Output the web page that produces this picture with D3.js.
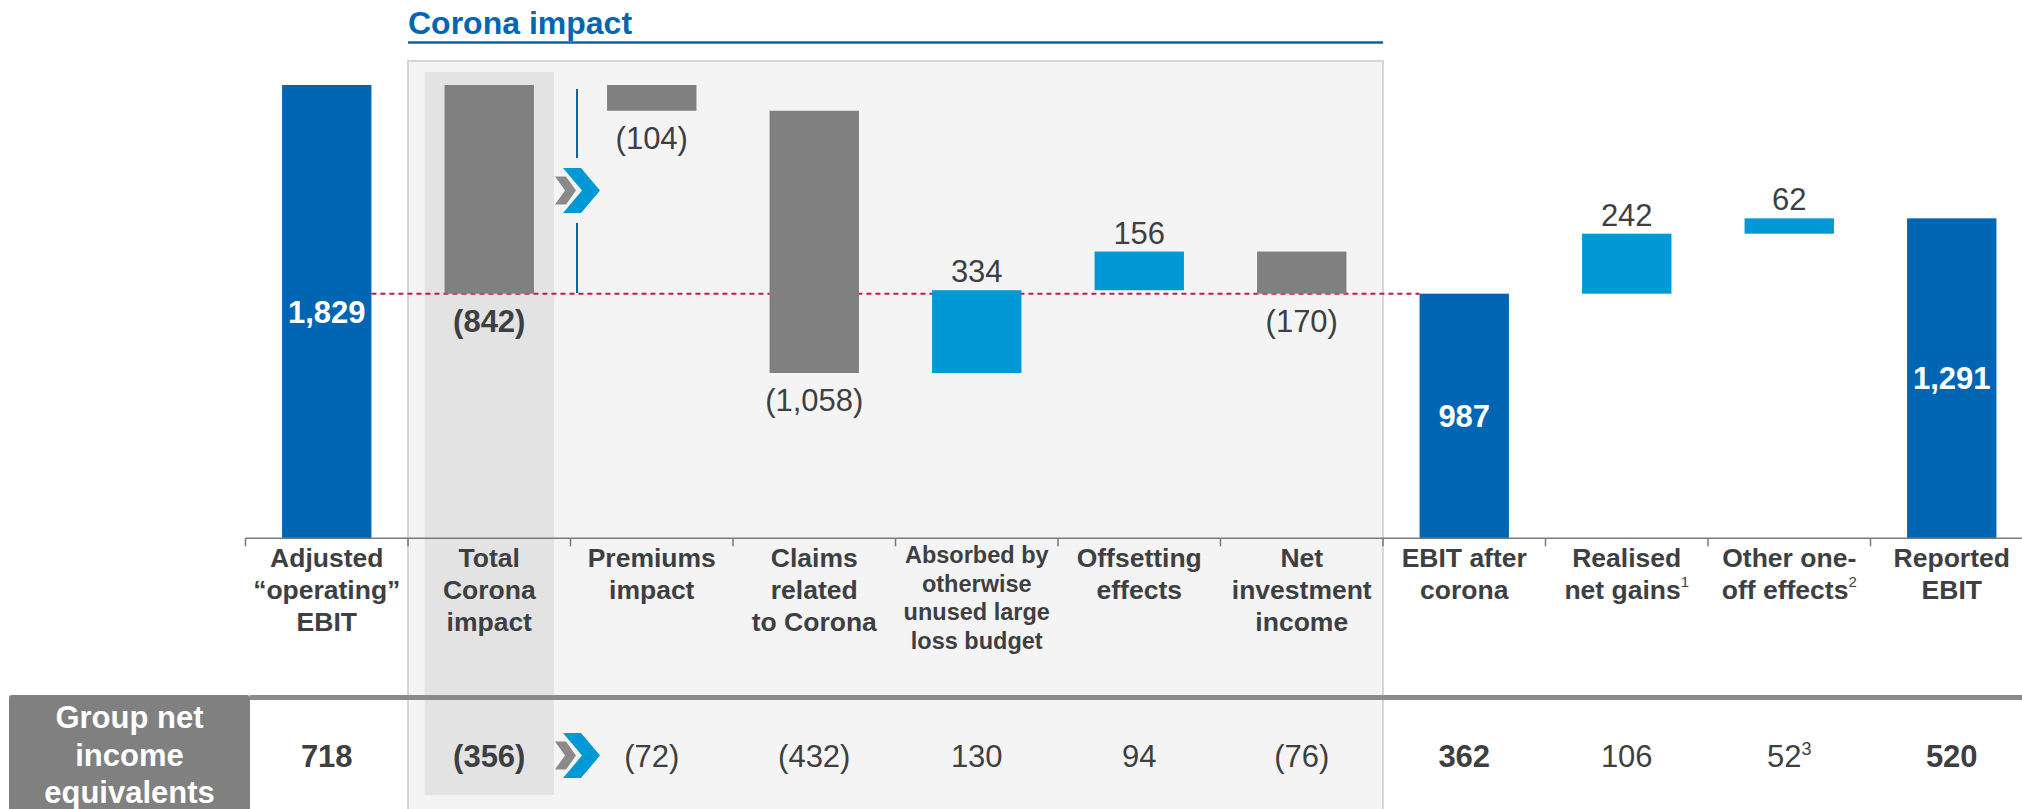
<!DOCTYPE html>
<html>
<head>
<meta charset="utf-8">
<script src="https://cdn.jsdelivr.net/npm/d3@7"></script>
<style>
  body { margin: 0; background: #fff; }
  text { font-family: "Liberation Sans", Arial, sans-serif; }
</style>
</head>
<body>
<div id="chart"></div>
<script>
// categories of the bridge, left to right
const categories = ['adjusted', 'total', 'premiums', 'claims', 'absorbed', 'offsetting',
  'netinv', 'ebitafter', 'realised', 'oneoff', 'reported'];

const labelLines = [
  ['Adjusted', '\u201Coperating\u201D', 'EBIT'],
  ['Total', 'Corona', 'impact'],
  ['Premiums', 'impact'],
  ['Claims', 'related', 'to Corona'],
  ['Absorbed by', 'otherwise', 'unused large', 'loss budget'],
  ['Offsetting', 'effects'],
  ['Net', 'investment', 'income'],
  ['EBIT after', 'corona'],
  ['Realised', 'net gains'],
  ['Other one-', 'off effects'],
  ['Reported', 'EBIT']
];
const labelNotes = ['', '', '', '', '', '', '', '', '1', '2', ''];

// EBIT values (EUR m)
const values = [1829, -842, -104, -1058, 334, 156, -170, 987, 242, 62, 1291];
// total = from zero, sum = hangs from running total without moving it, step = moves it
const kinds = ['total', 'sum', 'step', 'step', 'step', 'step', 'step', 'total', 'step', 'step', 'total'];

// bottom row: group net income equivalents
const netIncome = [718, -356, -72, -432, 130, 94, -76, 362, 106, 52, 520];
const netIncomeNotes = ['', '', '', '', '', '', '', '', '', '3', ''];

const colors = {
  total: '#0066b3',
  up: '#0099d5',
  down: '#808080',
  text: '#3d3f42'
};

const width = 2022, height = 809;
const fmt = d3.format(',');
const fmtVal = v => v < 0 ? `(${fmt(-v)})` : fmt(v);

// build waterfall rows
let running = 0;
const bars = values.map((v, i) => {
  let start, end;
  if (kinds[i] === 'total') {
    start = 0; end = v; running = v;
  } else if (kinds[i] === 'sum') {
    start = running; end = running + v;
  } else {
    start = running; end = running + v; running = end;
  }
  return {cat: categories[i], value: v, kind: kinds[i], start, end, i};
});

const svg = d3.select('#chart').append('svg')
  .attr('width', width)
  .attr('height', height);

const x = d3.scaleBand()
  .domain(categories)
  .range([245.5, 2033])
  .paddingInner(0.45)
  .paddingOuter(0.225);

const y = d3.scaleLinear()
  .domain([0, 1829])
  .range([538.3, 85]);

const step = x.step();
const bw = x.bandwidth();
const cx = c => x(c) + bw / 2;
const slotLeft = c => cx(c) - step / 2;

// Corona impact panel
const panelLeft = slotLeft('total');
const panelRight = slotLeft('ebitafter');
svg.append('rect')
  .attr('x', panelLeft)
  .attr('y', 61)
  .attr('width', panelRight - panelLeft)
  .attr('height', height)
  .attr('fill', '#f4f4f4')
  .attr('stroke', '#d6d6d6')
  .attr('stroke-width', 2);

svg.append('rect')
  .attr('x', x('total') - 20)
  .attr('y', 72)
  .attr('width', bw + 40)
  .attr('height', 795 - 72)
  .attr('fill', '#e3e3e3');

svg.append('text')
  .attr('x', panelLeft)
  .attr('y', 34)
  .attr('fill', colors.total)
  .attr('font-weight', 'bold')
  .attr('font-size', 32)
  .text('Corona impact');

svg.append('line')
  .attr('x1', panelLeft).attr('x2', panelRight)
  .attr('y1', 42.5).attr('y2', 42.5)
  .attr('stroke', colors.total)
  .attr('stroke-width', 2.5);

// dashed reference line at EBIT after corona
svg.append('line')
  .attr('x1', x('adjusted') + bw)
  .attr('x2', x('ebitafter'))
  .attr('y1', y(987)).attr('y2', y(987))
  .attr('stroke', '#c8174a')
  .attr('stroke-width', 2)
  .attr('stroke-dasharray', '5,4');

// bars
svg.selectAll('.bar')
  .data(bars)
  .join('rect')
  .attr('class', 'bar')
  .attr('x', d => x(d.cat))
  .attr('width', bw)
  .attr('y', d => y(Math.max(d.start, d.end)))
  .attr('height', d => Math.abs(y(d.start) - y(d.end)))
  .attr('fill', d => d.kind === 'total' ? colors.total : (d.value < 0 ? colors.down : colors.up));

// value labels
svg.selectAll('.val')
  .data(bars)
  .join('text')
  .attr('class', 'val')
  .attr('x', d => cx(d.cat))
  .attr('y', d => {
    if (d.kind === 'total') return (y(0) + y(d.end)) / 2 + 11;
    if (d.value < 0) return y(Math.min(d.start, d.end)) + 38;
    return y(d.end) - 8;
  })
  .attr('text-anchor', 'middle')
  .attr('font-size', 31)
  .attr('font-weight', d => d.kind === 'step' ? 'normal' : 'bold')
  .attr('fill', d => d.kind === 'total' ? '#fff' : colors.text)
  .text(d => fmtVal(d.value));

// axis with ticks at slot boundaries
const axisY = y(0);
svg.append('line')
  .attr('x1', slotLeft('adjusted')).attr('x2', width)
  .attr('y1', axisY).attr('y2', axisY)
  .attr('stroke', '#7a7a7a')
  .attr('stroke-width', 1.5);

svg.selectAll('.tick')
  .data(categories)
  .join('line')
  .attr('class', 'tick')
  .attr('x1', d => slotLeft(d)).attr('x2', d => slotLeft(d))
  .attr('y1', axisY).attr('y2', axisY + 8)
  .attr('stroke', '#7a7a7a')
  .attr('stroke-width', 1.5);

// category labels
const catLabels = svg.selectAll('.cat')
  .data(categories)
  .join('text')
  .attr('class', 'cat')
  .attr('text-anchor', 'middle')
  .attr('font-weight', 'bold')
  .attr('fill', colors.text)
  .attr('font-size', (d, i) => labelLines[i].length > 3 ? 23.5 : 26.5);

catLabels.each(function(d, i) {
  const small = labelLines[i].length > 3;
  const lh = small ? 28.5 : 32.3;
  const top = small ? 563.3 : 566.7;
  const t = d3.select(this);
  labelLines[i].forEach((line, j) => {
    t.append('tspan')
      .attr('x', cx(d))
      .attr('y', top + j * lh)
      .text(line);
  });
  if (labelNotes[i]) {
    t.append('tspan')
      .attr('font-size', 15)
      .attr('font-weight', 'normal')
      .attr('dy', -12)
      .text(labelNotes[i]);
  }
});

// chevron marks (corona total -> components)
function chevron(g, x0, yc) {
  g.append('polygon')
    .attr('points', [[x0 - 8, yc - 14], [x0 + 3, yc - 14], [x0 + 13, yc], [x0 + 3, yc + 14], [x0 - 8, yc + 14], [x0 + 2, yc]].join(' '))
    .attr('fill', '#8a8a8a');
  g.append('polygon')
    .attr('points', [[x0, yc - 22.5], [x0 + 18, yc - 22.5], [x0 + 37, yc], [x0 + 18, yc + 22.5], [x0, yc + 22.5], [x0 + 19, yc]].join(' '))
    .attr('fill', colors.up);
}
const chevX = slotLeft('premiums') - 7.5;
chevron(svg.append('g'), chevX, 190.5);
chevron(svg.append('g'), chevX, 755.5);

const vx = slotLeft('premiums') + 6.5;
[[89, 158], [223, 293]].forEach(seg => {
  svg.append('line')
    .attr('x1', vx).attr('x2', vx)
    .attr('y1', seg[0]).attr('y2', seg[1])
    .attr('stroke', colors.total)
    .attr('stroke-width', 2);
});

// bottom row
svg.append('line')
  .attr('x1', 250).attr('x2', width)
  .attr('y1', 697.5).attr('y2', 697.5)
  .attr('stroke', '#8a8a8a')
  .attr('stroke-width', 5);

svg.append('rect')
  .attr('x', 9).attr('y', 695)
  .attr('width', 241).attr('height', 130)
  .attr('rx', 3)
  .attr('fill', '#808080');

const boxText = svg.append('text')
  .attr('text-anchor', 'middle')
  .attr('font-weight', 'bold')
  .attr('font-size', 31)
  .attr('fill', '#fff');
['Group net', 'income', 'equivalents'].forEach((line, j) => {
  boxText.append('tspan')
    .attr('x', 129.5)
    .attr('y', 728 + j * 37.5)
    .text(line);
});

const ni = svg.selectAll('.ni')
  .data(netIncome)
  .join('text')
  .attr('class', 'ni')
  .attr('x', (d, i) => cx(categories[i]))
  .attr('y', 766.7)
  .attr('text-anchor', 'middle')
  .attr('font-size', 31)
  .attr('font-weight', (d, i) => kinds[i] === 'step' ? 'normal' : 'bold')
  .attr('fill', colors.text);

ni.each(function(d, i) {
  const t = d3.select(this);
  t.append('tspan').text(fmtVal(d));
  if (netIncomeNotes[i]) {
    t.append('tspan')
      .attr('font-size', 18)
      .attr('dy', -12)
      .text(netIncomeNotes[i]);
  }
});
</script>
</body>
</html>
